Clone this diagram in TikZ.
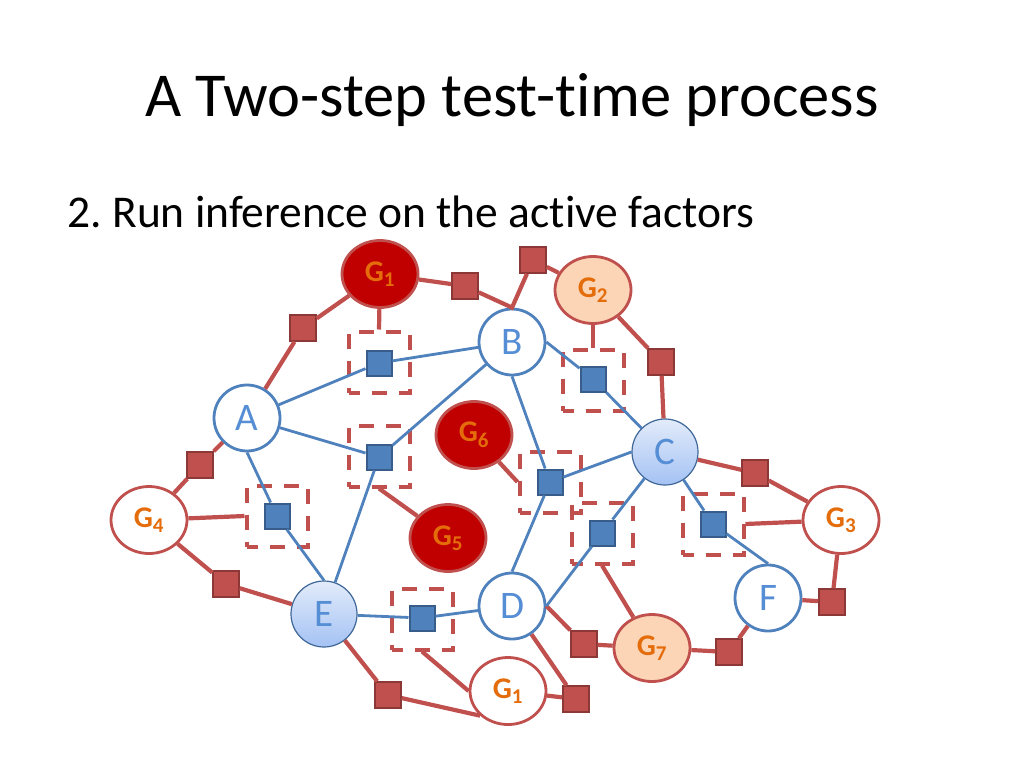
\documentclass[tikz,border=0pt]{standalone}
\usepackage{fontspec}
\setmainfont{Carlito}[Ligatures={NoCommon,NoContextual}, RawFeature={-liga;-clig;-dlig;-calt}]
\usetikzlibrary{shapes.geometric}

\definecolor{fred}{HTML}{C0504D}
\definecolor{fdark}{HTML}{8C3836}
\definecolor{gdark}{HTML}{C00000}
\definecolor{gpeach}{HTML}{FBD5B5}
\definecolor{gtext}{HTML}{E46C0A}
\definecolor{vblue}{HTML}{4F81BD}
\definecolor{bdark}{HTML}{385D8A}
\definecolor{vtext}{HTML}{558ED5}
\definecolor{shtop}{HTML}{E2EBFA}
\definecolor{shbot}{HTML}{A4C2F4}

\newcommand{\glab}[1]{G\textsubscript{#1}}

\begin{document}
\frenchspacing
\begin{tikzpicture}[x=1pt, y=-1pt,
			var/.style = {draw=vblue, circle, minimum size=66pt, inner sep=0pt, line width=2.8pt, fill=white, text=vtext, font=\fontsize{39}{39}\selectfont},
			shvar/.style = {var, draw=vblue!80!black, line width=1.2pt, top color=shtop, bottom color=shbot},
			gnode/.style = {draw=fred, ellipse, minimum width=76pt, minimum height=67pt, inner sep=0pt, line width=2.8pt, fill=white, text=gtext, font=\fontsize{30}{30}\selectfont\bfseries},
			gfull/.style = {gnode, fill=gdark},
			ghalf/.style = {gnode, fill=gpeach},
			rfac/.style = {draw=fdark, fill=fred, minimum size=25.5pt, inner sep=0pt, line width=2pt},
			bfac/.style = {draw=bdark, fill=vblue, minimum size=25pt, inner sep=0pt, line width=2pt},
			dbox/.style = {draw=fred, dash pattern=on 15pt off 12pt, dash phase=4pt, line width=4pt, minimum size=61pt, inner sep=0pt},
			redge/.style = {draw=fred, line width=4.2pt},
			bedge/.style = {draw=vblue, line width=2.8pt}
		]
		\useasboundingbox (0,0) rectangle (1024,768);
		\node[anchor=base, font=\fontsize{62.5}{62.5}\selectfont] (title) at (512,116) {A Two-step test-time process};
		\node[anchor=base west, font=\fontsize{45.5}{45.5}\selectfont] (sub) at (64,227) {2. Run inference on the active factors};

		\node[var] (A) at (247,418) {A};
		\node[var] (B) at (512,342) {B};
		\node[shvar] (C) at (665,452) {C};
		\node[var] (D) at (512,606) {D};
		\node[shvar] (E) at (324,614) {E};
		\node[var] (F) at (768,598) {F};

		\node[gfull] (g1) at (380,274) {\glab{1}};
		\node[ghalf] (g2) at (593,290) {\glab{2}};
		\node[gnode] (g3) at (841,520) {\glab{3}};
		\node[gnode] (g4) at (149,520) {\glab{4}};
		\node[gfull] (g5) at (448,538) {\glab{5}};
		\node[gfull] (g6) at (474,435) {\glab{6}};
		\node[ghalf] (g7) at (652,648) {\glab{7}};
		\node[gnode] (g1b) at (508,691) {\glab{1}};

		\node[dbox] (d1) at (379,362) {};
		\node[dbox] (d2) at (379,456) {};
		\node[dbox] (d3) at (277,516) {};
		\node[dbox] (d4) at (593,380) {};
		\node[dbox] (d5) at (550,482) {};
		\node[dbox] (d6) at (602,533) {};
		\node[dbox] (d7) at (713,524) {};
		\node[dbox] (d8) at (422,619) {};

		\node[bfac] (b1) at (379,363) {};
		\node[bfac] (b2) at (379,457) {};
		\node[bfac] (b3) at (277,516) {};
		\node[bfac] (b4) at (593,379) {};
		\node[bfac] (b5) at (550,482) {};
		\node[bfac] (b6) at (602,533) {};
		\node[bfac] (b7) at (713,524) {};
		\node[bfac] (b8) at (422,618) {};

		\node[rfac] (r1) at (303,328) {};
		\node[rfac] (r2) at (465,286) {};
		\node[rfac] (r3) at (533,260) {};
		\node[rfac] (r4) at (661,362) {};
		\node[rfac] (r5) at (755,473) {};
		\node[rfac] (r6) at (832,602) {};
		\node[rfac] (r7) at (729,652) {};
		\node[rfac] (r8) at (584,644) {};
		\node[rfac] (r9) at (576,699) {};
		\node[rfac] (r10) at (388,695) {};
		\node[rfac] (r11) at (226,584) {};
		\node[rfac] (r12) at (200,465) {};

		\draw[redge] (A) -- (r1) -- (g1) -- (r2) -- (B.north) -- (r3) -- (g2) -- (r4) -- (C) -- (r5) -- (g3) -- (r6) -- (F) -- (r7) -- (g7) -- (r8) -- (D.east);
		\draw[redge] (D) -- (r9) -- (g1b);
		\draw[redge] (g1b.south west) -- (r10) -- (E) -- (r11) -- (g4) -- (r12) -- (A);
		\draw[redge] (g1) -- (d1.north);
		\draw[redge] (g2) -- (d4.north);
		\draw[redge] (g6) -- (d5.west);
		\draw[redge] (g5) -- (d2.south);
		\draw[redge] (g4) -- (d3.west);
		\draw[redge] (g3) -- (d7.east);
		\draw[redge] (d6.south) -- (g7);
		\draw[redge] (d8.south) -- (g1b.west);

		\draw[bedge] (A) -- (b1) -- (B);
		\draw[bedge] (A) -- (b2) -- (B);
		\draw[bedge] (b2) -- (E);
		\draw[bedge] (A.south) -- (b3) -- (E.north);
		\draw[bedge] (B.east) -- (b4) -- (C);
		\draw[bedge] (B.south) -- (b5) -- (C.west);
		\draw[bedge] (b5) -- (D.north);
		\draw[bedge] (C) -- (b6) -- (D.east);
		\draw[bedge] (C) -- (b7) -- (F.north);
		\draw[bedge] (E) -- (b8) -- (D);
	\end{tikzpicture}
\end{document}
